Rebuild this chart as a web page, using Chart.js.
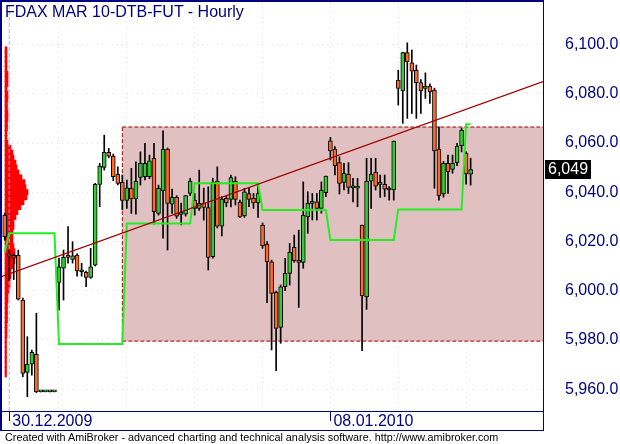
<!DOCTYPE html>
<html>
<head>
<meta charset="utf-8">
<script src="https://cdn.jsdelivr.net/npm/chart.js@4.4.1/dist/chart.umd.min.js"></script>
<style>
  html, body { margin: 0; padding: 0; background: #fff; }
  #wrap { position: relative; width: 620px; height: 444px; overflow: hidden; }
  #frame { position: absolute; left: 0; top: 0; width: 541px; height: 428px;
    border-left: 2px solid #000080; border-top: 2px solid #000080;
    border-right: 1px solid #000080; border-bottom: 1px solid #000080; pointer-events: none; }
  #title { position: absolute; left: 5px; top: 4px; font: 16px/16px "Liberation Sans", Arial, sans-serif; color: #000080; white-space: nowrap; }
  #footer { position: absolute; left: 5px; top: 432px; font: 10.8px/11px "Liberation Sans", Arial, sans-serif; color: #000; white-space: nowrap; }
</style>
</head>
<body>
<div id="wrap">
  <canvas id="myChart" width="620" height="444"></canvas>
  <div id="frame"></div>
  <div id="title">FDAX MAR 10-DTB-FUT - Hourly</div>
  <div id="footer">Created with AmiBroker - advanced charting and technical analysis software. http://www.amibroker.com</div>
</div>
<script>
// hourly bars, 29.12.2009 - 12.01.2010
const opens  = [6030.7,6015.0,6014.0,6014.5,5996.2,5966.8,5970.1,5974.1,5958.9,5958.9,5958.9,5958.9,
  6003.4,6009.1,6014.5,6012.7,6014.5,6007.7,6007.4,6005.4,6010.4,6043.2,6050.1,6056.2,6054.7,6047.3,6044.0,
  6036.7,6041.6,6037.3,6046.0,6046.3,6046.3,6053.8,6031.4,6040.6,6057.4,6035.1,6037.9,6031.0,6031.1,6039.5,
  6036.8,6033.4,6035.5,6033.8,6013.8,6044.5,6026.2,6037.5,6037.1,6044.5,6035.9,6030.4,6039.5,6037.5,6035.7,
  6026.7,6018.9,6011.7,5999.3,5985.1,6001.6,6007.0,6017.6,6012.4,6011.5,6030.0,6035.5,6036.1,6033.4,6039.8,
  6060.9,6057.5,6052.0,6044.0,6047.4,6041.8,6041.6,6026.7,5997.5,6044.5,6048.1,6043.2,6043.2,6040.9,6040.9,
  6085.6,6081.2,6096.7,6092.6,6089.6,6084.6,6082.2,6083.1,6081.5,6057.5,6039.3,6051.7,6049.3,6052.0,6058.9,
  6055.8,6047.3];
const highs  = [6031.5,6016.5,6015.0,6016.5,5997.0,5981.3,5975.9,5990.8,5958.9,5958.9,5958.9,5958.9,
  6013.2,6016.5,6026.0,6019.9,6015.0,6011.1,6008.0,6017.2,6043.6,6051.7,6063.2,6057.8,6055.5,6050.3,6047.0,
  6044.9,6049.7,6052.4,6056.4,6059.9,6055.1,6059.9,6042.9,6064.9,6058.0,6041.3,6038.6,6035.6,6038.6,6045.7,
  6039.5,6049.0,6041.7,6042.2,6045.7,6050.3,6038.2,6038.6,6047.0,6046.3,6036.8,6041.6,6041.6,6039.5,6042.9,
  6027.5,6019.9,6012.4,5999.8,6002.3,6013.1,6019.2,6022.6,6024.6,6044.2,6040.2,6039.5,6039.5,6044.2,6046.6,
  6062.3,6058.5,6054.4,6051.7,6052.0,6045.6,6045.6,6026.7,6053.8,6053.8,6053.8,6047.0,6047.0,6042.3,6060.8,
  6089.6,6096.9,6100.7,6097.8,6091.7,6085.8,6088.5,6084.0,6082.3,6066.6,6052.5,6055.1,6055.1,6059.9,6066.0,
  6056.4,6053.8];
const lows   = [6020.5,6004.0,6004.5,5996.2,5965.0,5956.9,5965.7,5958.6,5958.9,5958.9,5958.9,5958.9,
  5992.1,5996.2,6011.2,6011.2,6005.9,6005.9,6001.6,6005.0,6010.0,6034.1,6049.0,6054.0,6044.7,6043.0,6032.8,
  6033.4,6031.4,6031.1,6042.9,6045.0,6045.5,6027.1,6030.7,6021.3,6016.5,6031.4,6029.4,6026.7,6030.3,6038.6,
  6030.7,6032.6,6028.7,6008.4,6013.2,6025.5,6022.2,6034.1,6034.0,6034.8,6029.8,6029.8,6034.1,6033.4,6029.8,
  6017.2,5995.1,5975.9,5967.5,5978.6,6000.0,6002.3,6011.5,5993.2,6009.1,6023.3,6028.7,6028.7,6031.5,6038.2,
  6053.1,6047.0,6039.3,6040.9,6039.5,6036.1,6034.1,5975.6,5992.4,6033.4,6040.9,6037.9,6038.2,6036.8,6036.8,
  6075.4,6068.0,6070.0,6072.0,6070.0,6072.0,6078.1,6076.1,6041.6,6036.8,6038.0,6039.5,6047.7,6050.8,6056.4,
  6043.3,6042.9];
const closes = [6021.9,6014.0,6013.5,5996.5,5966.4,5970.2,5974.9,5958.9,5958.9,5958.9,5958.9,5958.9,
  6009.7,6013.5,6013.5,6014.2,6008.0,6007.7,6005.4,6009.7,6043.2,6050.6,6056.2,6054.7,6046.3,6043.6,6036.7,
  6041.8,6037.3,6044.5,6051.7,6051.7,6052.8,6032.1,6041.6,6057.4,6035.5,6037.9,6030.3,6031.0,6038.6,6044.5,
  6033.4,6035.5,6033.8,6013.5,6044.0,6026.2,6037.2,6035.7,6046.0,6037.1,6030.0,6040.2,6037.1,6035.7,6039.5,
  6018.2,6011.7,5998.9,5984.7,6001.6,6007.0,6015.6,6012.2,6011.5,6030.7,6035.5,6035.5,6033.4,6040.9,6046.6,
  6056.8,6050.8,6043.6,6047.7,6042.0,6041.8,6042.5,5997.9,6044.5,6047.4,6042.5,6043.2,6041.2,6040.9,6060.8,
  6082.2,6096.7,6093.0,6089.2,6084.5,6081.2,6083.1,6080.8,6056.8,6038.6,6051.7,6048.3,6051.7,6058.8,6065.3,
  6047.4,6049.2];

// green step line (daily level)
const stepLevel = [6015.5,
  6023.3,6023.3,6023.3,6023.3,6023.3,6023.3,6023.3,6023.3,6023.3,6023.3,6023.3,
  5978.3,5978.3,5978.3,5978.3,5978.3,5978.3,5978.3,5978.3,5978.3,5978.3,5978.3,5978.3,5978.3,5978.3,5978.3,
  6027.3,6027.3,6027.3,6027.3,6027.3,6027.3,6027.3,6027.3,6027.3,6027.3,6027.3,6027.3,6027.3,6027.3,6027.3,
  6043.6,6043.6,6043.6,6043.6,6043.6,6043.6,6043.6,6043.6,6043.6,6043.6,6043.6,6043.6,6043.6,6043.6,6043.6,
  6032.8,6032.8,6032.8,6032.8,6032.8,6032.8,6032.8,6032.8,6032.8,6032.8,6032.8,6032.8,6032.8,6032.8,6032.8,
  6020.6,6020.6,6020.6,6020.6,6020.6,6020.6,6020.6,6020.6,6020.6,6020.6,6020.6,6020.6,6020.6,6020.6,6020.6,
  6033.0,6033.0,6033.0,6033.0,6033.0,6033.0,6033.0,6033.0,6033.0,6033.0,6033.0,6033.0,6033.0,6033.0,6033.0,
  6067.6,6067.6];

// volume at price (left histogram)
const profilePrices = [6098,6096,6094,6092,6090,6088,6086,6084,6082,6080,6078,6076,6074,6072,6070,6068,6066,
  6064,6062,6060,6058,6056,6054,6052,6050,6048,6046,6044,6042,6040,6038,6036,6034,6032,6030,6028,6026,6024,
  6022,6020,6018,6016,6014,6012,6010,6008,6006,6004,6002,6000,5998,5996,5994,5992,5990,5988,5986,5984,5982,
  5980,5978,5976,5974,5972,5970,5968,5966];
const profileVolume = [200,200,200,200,200,300,300,300,200,300,300,250,250,300,300,250,250,
  200,200,300,600,800,900,1100,1200,1400,1700,2000,2100,2300,2200,1900,1600,1300,1100,900,900,800,
  800,800,900,1000,1000,1000,800,600,600,500,500,400,300,300,250,250,250,250,200,200,200,
  150,150,150,150,150,150,150,150];

// trend line and range box
const trendX = [-0.6, 119];
const trendY = [6005.8, 6085.0];
const boxStart = 26;
const boxHigh = 6066.5;
const boxLow = 5979.5;

// axes
const xMin = -0.6, xMax = 119;
const yMin = 5951.1, yMax = 6117.3;
const priceTicks = [5960, 5980, 6000, 6020, 6040, 6060, 6080, 6100];
const dayStarts = [12, 27, 42, 57, 72, 87, 102];
const dateTicks = [1, 72];
const dateLabels = ['30.12.2009', '08.01.2010'];
const markerBar = 1;

const navy = '#000080';
const dotColor = '#ecdede';
const fmt = new Intl.NumberFormat('en-US', { minimumFractionDigits: 1, maximumFractionDigits: 1 });
const fmtInt = new Intl.NumberFormat('en-US', { maximumFractionDigits: 0 });

window.addEventListener("load", function() {
	Chart.defaults.font.family = '"Liberation Sans", Arial, sans-serif';

	let xTicks = dayStarts.concat(dateTicks.filter(v => !dayStarts.includes(v))).sort((a, b) => a - b);

	let lastPriceLabel = {
		id: 'lastPriceLabel',
		afterDraw(chart) {
			const { ctx, chartArea, scales } = chart;
			const v = closes[closes.length - 1];
			const y = scales.y.getPixelForValue(v);
			const txt = fmtInt.format(v);
			ctx.save();
			ctx.font = '16px "Liberation Sans", Arial, sans-serif';
			const w = ctx.measureText(txt).width + 6;
			ctx.fillStyle = '#000';
			ctx.fillRect(chartArea.right + 2, Math.round(y - 10), Math.round(w), 19);
			ctx.fillStyle = '#fff';
			ctx.textBaseline = 'middle';
			ctx.fillText(txt, chartArea.right + 5, y);
			ctx.restore();
		}
	};

	let data = {
		datasets: [
			{
				type: 'line', label: 'box top', order: 12,
				data: [{ x: boxStart, y: boxHigh }, { x: xMax, y: boxHigh }],
				borderColor: '#9b0000', borderWidth: 1, borderDash: [4, 2],
				backgroundColor: '#e0c0c0', fill: '+1', pointRadius: 0
			},
			{
				type: 'line', label: 'box bottom', order: 11,
				data: [{ x: boxStart, y: boxLow }, { x: xMax, y: boxLow }],
				borderColor: '#9b0000', borderWidth: 1, borderDash: [4, 2],
				fill: false, pointRadius: 0
			},
			{
				type: 'line', label: 'box left', order: 11,
				data: [{ x: boxStart, y: boxLow }, { x: boxStart, y: boxHigh }],
				borderColor: '#9b0000', borderWidth: 1, borderDash: [4, 2],
				fill: false, pointRadius: 0
			},
			{
				type: 'bar', label: 'volume profile', order: 9, indexAxis: 'y',
				xAxisID: 'xv', yAxisID: 'yv', grouped: false,
				data: profilePrices.map((p, i) => ({ x: profileVolume[i], y: p })),
				backgroundColor: '#ff0000', borderWidth: 0, barThickness: 5.4
			},
			{
				type: 'line', label: 'marker', order: 8,
				data: [{ x: markerBar, y: yMin }, { x: markerBar, y: yMax }],
				borderColor: '#b4b4f4', borderWidth: 1, borderDash: [4, 2],
				fill: false, pointRadius: 0
			},
			{
				type: 'bar', label: 'wicks', order: 4, grouped: false,
				data: opens.map((o, i) => ({ x: i, y: [lows[i], highs[i]] })),
				backgroundColor: '#000', borderWidth: 0, barThickness: 1
			},
			{
				type: 'bar', label: 'bodies', order: 3, grouped: false,
				data: opens.map((o, i) => ({ x: i, y: [o, closes[i]] })),
				backgroundColor: opens.map((o, i) => closes[i] >= o ? '#33cc33' : '#ff6a28'),
				borderColor: '#000', borderWidth: 1, borderSkipped: false,
				barThickness: 4, minBarLength: 2
			},
			{
				type: 'line', label: 'level', order: 2,
				data: stepLevel.map((v, i) => ({ x: i, y: v })),
				borderColor: '#22ee22', borderWidth: 2, fill: false, pointRadius: 0, tension: 0
			},
			{
				type: 'line', label: 'trend', order: 1,
				data: trendX.map((x, i) => ({ x: x, y: trendY[i] })),
				borderColor: '#a00000', borderWidth: 1.3, fill: false, pointRadius: 0
			}
		]
	};

	let options = {
		responsive: false,
		animation: false,
		layout: { autoPadding: false, padding: { left: 2, top: 2, right: 0, bottom: 13 } },
		plugins: { legend: { display: false }, tooltip: { enabled: false } },
		scales: {
			x: {
				type: 'linear', min: xMin, max: xMax, z: 1, offset: false,
				afterBuildTicks: s => { s.ticks = xTicks.map(v => ({ value: v })); },
				afterFit: s => { s.height = 20; s.paddingLeft = 0; s.paddingRight = 0; },
				grid: {
					offset: false,
					color: c => (c.tick && dayStarts.includes(c.tick.value)) ? dotColor : 'rgba(0,0,0,0)',
					tickColor: c => (c.tick && dateTicks.includes(c.tick.value)) ? navy : 'rgba(0,0,0,0)',
					drawTicks: true, tickLength: 10, tickWidth: 1
				},
				border: { display: true, color: navy, width: 1, dash: [1, 4] },
				ticks: {
					autoSkip: false, maxRotation: 0, align: 'start', labelOffset: 3, padding: -9,
					color: navy, font: { size: 16 },
					callback: v => { const k = dateTicks.indexOf(v); return k >= 0 ? dateLabels[k] : ''; }
				}
			},
			y: {
				type: 'linear', position: 'right', min: yMin, max: yMax, z: 1, offset: false,
				afterBuildTicks: s => { s.ticks = priceTicks.map(v => ({ value: v })); },
				afterFit: s => { s.width = 77; s.paddingTop = 0; s.paddingBottom = 0; },
				grid: { color: dotColor, drawTicks: false },
				border: { display: false, dash: [1, 4] },
				ticks: { padding: 22, color: navy, font: { size: 16 }, callback: v => fmt.format(v) }
			},
			xv: { type: 'linear', display: false, offset: false, min: -300, max: 53800 },
			yv: { type: 'linear', display: false, offset: false, min: yMin, max: yMax }
		}
	};

	const ctx = document.getElementById('myChart').getContext('2d');

	let myChart = new Chart(ctx, {
		type: 'bar',
		data: data,
		options: options,
		plugins: [lastPriceLabel]
	});
})
</script>
</body>
</html>
